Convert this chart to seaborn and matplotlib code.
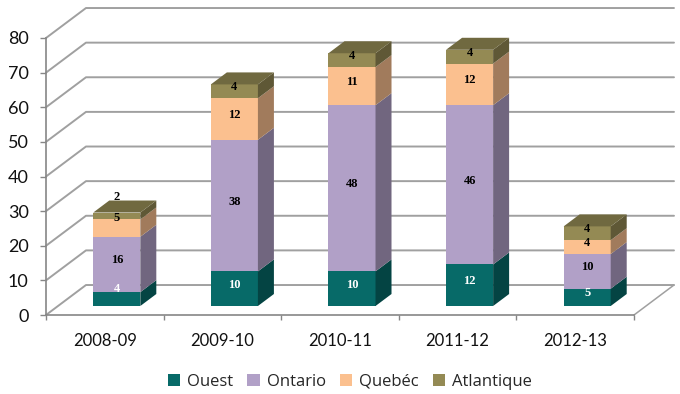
import numpy as np
import matplotlib
matplotlib.use("Agg")
import matplotlib.pyplot as plt
from matplotlib.patches import Polygon
from matplotlib.colors import to_rgb
import seaborn as sns

years = ['2008-09', '2009-10', '2010-11', '2011-12', '2012-13']
ouest = [4, 10, 10, 12, 5]
ontario = [16, 38, 48, 46, 10]
quebec = [5, 12, 11, 12, 4]
atlantique = [2, 4, 4, 4, 4]
series_names = ['Ouest', 'Ontario', 'Quebéc', 'Atlantique']
series_colors = ['#076A68', '#B1A0C7', '#FBC08F', '#948A54']
y_ticks = [0, 10, 20, 30, 40, 50, 60, 70, 80]

# depth of the fake 3d box, in data units
box_dx = 0.34
box_dy = 8.66
bar_front = 0.3
bar_depth = 0.4
grid_col = '#A0A0A0'
axis_col = '#868686'

def shade(col, k):
    return tuple(c * k for c in to_rgb(col))

sns.set_theme(style='white')
plt.rcParams['font.family'] = ['Lato', 'DejaVu Sans']

fig = plt.figure(figsize=(6.8, 3.94), dpi=100)
ax = fig.add_axes([46 / 680, 1 - 315 / 394, 588 / 680, 277 / 394])

series = [ouest, ontario, quebec, atlantique]
bottom = np.zeros(len(years))
for name, vals, col in zip(series_names, series, series_colors):
    sns.barplot(x=years, y=vals, bottom=bottom, color=col, saturation=1, width=0.4,
                label=name, linewidth=0, ax=ax, zorder=3)
    bottom = bottom + np.array(vals)

ax.set_xlim(-0.5, 4.5)
ax.set_ylim(0, 80)

# walls and floor
for v in y_ticks:
    ax.plot([-0.5, -0.5 + box_dx, 4.5 + box_dx], [v, v + box_dy, v + box_dy],
            color=grid_col, lw=1.4, clip_on=False, zorder=1)
ax.plot([4.5, 4.5 + box_dx], [0, box_dy], color=grid_col, lw=1.1, clip_on=False, zorder=1)

# move bars back into the box and add side and top faces
n = len(years)
for i, rect in enumerate(ax.patches):
    x0 = rect.get_x() + bar_front * box_dx
    y0 = rect.get_y() + bar_front * box_dy
    w = rect.get_width()
    h = rect.get_height()
    rect.set_x(x0)
    rect.set_y(y0)
    rect.set_clip_on(False)
    col = series_colors[i // n]
    ddx = bar_depth * box_dx
    ddy = bar_depth * box_dy
    side = [(x0 + w, y0), (x0 + w + ddx, y0 + ddy), (x0 + w + ddx, y0 + h + ddy), (x0 + w, y0 + h)]
    ax.add_patch(Polygon(side, closed=True, fc=shade(col, 0.64), ec='none', clip_on=False, zorder=3))
    if i // n == len(series) - 1:
        top = [(x0, y0 + h), (x0 + ddx, y0 + h + ddy), (x0 + w + ddx, y0 + h + ddy), (x0 + w, y0 + h)]
        ax.add_patch(Polygon(top, closed=True, fc=shade(col, 0.76), ec='none', clip_on=False, zorder=3))

# value labels, the first bar's small ones sit higher in the original
nudge = {(0, 0): 10, (0, 2): 10, (0, 3): 19}
bottom = np.zeros(len(years))
for s, vals in enumerate(series):
    for c, v in enumerate(vals):
        y = bottom[c] + v / 2 + bar_front * box_dy
        ax.annotate(str(v), (c + bar_front * box_dx, y),
                    xytext=(0, nudge.get((c, s), 4) * 0.72), textcoords='offset points',
                    ha='center', va='center', fontsize=9, fontweight='bold',
                    family='Liberation Serif', color='white' if s == 0 else 'black', zorder=5)
    bottom = bottom + np.array(vals)

for side in ['top', 'right']:
    ax.spines[side].set_visible(False)
for side in ['left', 'bottom']:
    ax.spines[side].set_color(axis_col)
    ax.spines[side].set_linewidth(1.2)
ax.spines['bottom'].set_zorder(2)

ax.set_yticks(y_ticks)
ax.set_xticks(range(n))
ax.set_xticklabels(years)
ax.set_xticks(np.arange(-0.5, 5), minor=True)
ax.tick_params(axis='x', which='major', length=0, pad=13, labelsize=12, colors='#111111')
ax.tick_params(axis='x', which='minor', length=3.5, width=1, color=axis_col, bottom=True)
ax.tick_params(axis='y', length=4.5, width=1, color=axis_col, labelsize=13, labelcolor='#111111', pad=8, left=True)
ax.set_xlabel('')
ax.set_ylabel('')
if ax.get_legend() is not None:
    ax.get_legend().remove()

handles, labels = ax.get_legend_handles_labels()
fig.legend(handles, labels, ncol=4, loc='center', bbox_to_anchor=(350 / 680, 1 - 382 / 394),
           frameon=False, handlelength=0.75, handleheight=0.75, handletextpad=0.42,
           columnspacing=0.83, prop={'family': 'Open Sans', 'size': 12})

fig.savefig('out.png', dpi=100)
